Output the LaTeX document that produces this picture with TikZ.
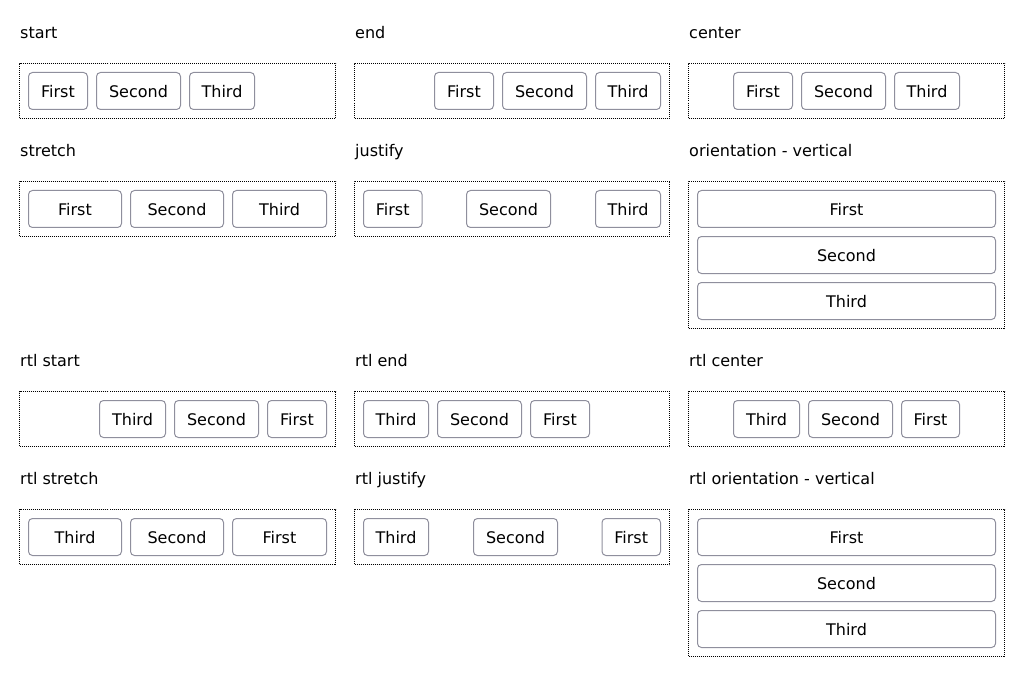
\documentclass[tikz,border=0pt]{standalone}
\usepackage{fontspec}
\setmainfont{DejaVu Sans}
\definecolor{btnborder}{HTML}{8F8F9D}
\tikzset{
  btn/.style={draw=btnborder, line width=1pt, rounded corners=4pt, minimum height=37pt, inner sep=0pt, text height=12.6pt, text depth=0pt, font=\fontsize{16}{19}\selectfont, text=black},
  frame/.style={draw=black, line width=1pt, dash pattern=on 1pt off 1pt, inner sep=0pt},
  title/.style={anchor=base west, inner sep=0pt, font=\fontsize{16}{19}\selectfont, text=black}
}
\newcommand{\btn}[5]{\node[btn, minimum width={(#3)-(#2)}] (#1) at ({((#2)+(#3))/2},#4) {#5};}
\newcommand{\frm}[5]{\node[frame, minimum width={(#4)-(#2)}, minimum height={(#5)-(#3)}] (#1) at ({((#2)+(#4))/2},{((#3)+(#5))/2}) {};}
\begin{document}
\begin{tikzpicture}[x=1pt,y=-1pt]
\useasboundingbox (0,0) rectangle (1024,676);
% titles
\node[title] (t1) at (20,38.5) {start};
\node[title] (t2) at (355,38.5) {end};
\node[title] (t3) at (689,38.5) {center};
\node[title] (t4) at (20,156.5) {stretch};
\node[title] (t5) at (355,156.5) {justify};
\node[title] (t6) at (689,156.5) {orientation - vertical};
\node[title] (t7) at (20,366.5) {rtl start};
\node[title] (t8) at (355,366.5) {rtl end};
\node[title] (t9) at (689,366.5) {rtl center};
\node[title] (t10) at (20,484.5) {rtl stretch};
\node[title] (t11) at (355,484.5) {rtl justify};
\node[title] (t12) at (689,484.5) {rtl orientation - vertical};
% frames
\frm{f1}{19.5}{63.5}{335.5}{118.5}
\frm{f2}{354.5}{63.5}{669.5}{118.5}
\frm{f3}{688.5}{63.5}{1004.5}{118.5}
\frm{f4}{19.5}{181.5}{335.5}{236.5}
\frm{f5}{354.5}{181.5}{669.5}{236.5}
\frm{f6}{688.5}{181.5}{1004.5}{328.5}
\frm{f7}{19.5}{391.5}{335.5}{446.5}
\frm{f8}{354.5}{391.5}{669.5}{446.5}
\frm{f9}{688.5}{391.5}{1004.5}{446.5}
\frm{f10}{19.5}{509.5}{335.5}{564.5}
\frm{f11}{354.5}{509.5}{669.5}{564.5}
\frm{f12}{688.5}{509.5}{1004.5}{656.5}
% start
\btn{a1}{28.5}{87.5}{91}{First}
\btn{a2}{96.5}{180.5}{91}{Second}
\btn{a3}{189.5}{254.5}{91}{Third}
% end
\btn{b1}{434.5}{493.5}{91}{First}
\btn{b2}{502.5}{586.5}{91}{Second}
\btn{b3}{595.5}{660.5}{91}{Third}
% center
\btn{c1}{733.5}{792.5}{91}{First}
\btn{c2}{801.5}{885.5}{91}{Second}
\btn{c3}{894.5}{959.5}{91}{Third}
% stretch
\btn{d1}{28.5}{121.5}{209}{First}
\btn{d2}{130.5}{223.5}{209}{Second}
\btn{d3}{232.5}{326.5}{209}{Third}
% justify
\btn{e1}{363.5}{422}{209}{First}
\btn{e2}{466.5}{550.5}{209}{Second}
\btn{e3}{595.5}{660.5}{209}{Third}
% vertical
\btn{g1}{697.5}{995.5}{209}{First}
\btn{g2}{697.5}{995.5}{255}{Second}
\btn{g3}{697.5}{995.5}{301}{Third}
% rtl start
\btn{h3}{99.5}{165.5}{419}{Third}
\btn{h2}{174.5}{258.5}{419}{Second}
\btn{h1}{267.5}{326.5}{419}{First}
% rtl end
\btn{i3}{363.5}{428.5}{419}{Third}
\btn{i2}{437.5}{521.5}{419}{Second}
\btn{i1}{530.5}{589.5}{419}{First}
% rtl center
\btn{j3}{733.5}{799.5}{419}{Third}
\btn{j2}{808.5}{892.5}{419}{Second}
\btn{j1}{901.5}{959.5}{419}{First}
% rtl stretch
\btn{k3}{28.5}{121.5}{537}{Third}
\btn{k2}{130.5}{223.5}{537}{Second}
\btn{k1}{232.5}{326.5}{537}{First}
% rtl justify
\btn{l3}{363.5}{428.5}{537}{Third}
\btn{l2}{473.5}{557.5}{537}{Second}
\btn{l1}{602}{660.5}{537}{First}
% rtl vertical
\btn{m1}{697.5}{995.5}{537}{First}
\btn{m2}{697.5}{995.5}{583}{Second}
\btn{m3}{697.5}{995.5}{629}{Third}
\end{tikzpicture}
\end{document}
